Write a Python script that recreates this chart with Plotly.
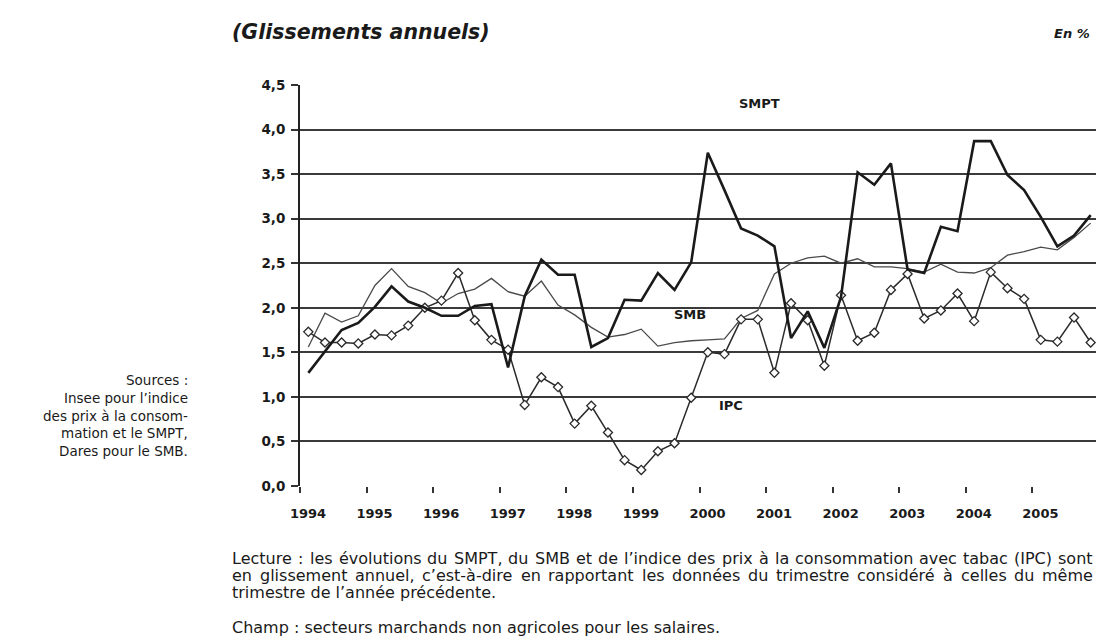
import plotly.graph_objects as go

# ---------------- data (quarterly, annual growth rates in %) ----------------
years = list(range(1994, 2006))
quarters = [1, 2, 3, 4]
smpt = [1.27, 1.51, 1.75, 1.83, 2.01, 2.24, 2.07, 2.00, 1.91, 1.91, 2.02, 2.04,
        1.33, 2.13, 2.54, 2.37, 2.37, 1.56, 1.66, 2.09, 2.08, 2.39, 2.20, 2.51,
        3.74, 3.32, 2.89, 2.81, 2.69, 1.66, 1.96, 1.55, 2.12, 3.52, 3.38, 3.62,
        2.43, 2.39, 2.91, 2.86, 3.87, 3.87, 3.49, 3.32, 3.02, 2.69, 2.81, 3.04]
smb = [1.56, 1.94, 1.84, 1.91, 2.25, 2.44, 2.24, 2.17, 2.05, 2.16, 2.21, 2.33,
       2.18, 2.13, 2.30, 2.03, 1.92, 1.78, 1.67, 1.70, 1.76, 1.57, 1.61, 1.63,
       1.64, 1.65, 1.88, 1.97, 2.38, 2.50, 2.56, 2.58, 2.50, 2.55, 2.46, 2.46,
       2.44, 2.40, 2.49, 2.40, 2.39, 2.45, 2.59, 2.63, 2.68, 2.65, 2.79, 2.95]
ipc = [1.73, 1.61, 1.61, 1.60, 1.70, 1.69, 1.80, 2.00, 2.08, 2.39, 1.86, 1.64,
       1.53, 0.91, 1.22, 1.11, 0.70, 0.90, 0.60, 0.29, 0.18, 0.39, 0.48, 0.99,
       1.50, 1.48, 1.87, 1.87, 1.27, 2.05, 1.86, 1.35, 2.14, 1.63, 1.72, 2.20,
       2.38, 1.88, 1.97, 2.16, 1.85, 2.40, 2.22, 2.10, 1.64, 1.62, 1.89, 1.61]
y_ticks = [0.0, 0.5, 1.0, 1.5, 2.0, 2.5, 3.0, 3.5, 4.0, 4.5]
year_labels = [str(y) for y in years]

title_text = "(Glissements annuels)"
unit_text = "En %"
source_lines = ["Sources :", "Insee pour l’indice", "des prix à la consom-",
                "mation et le SMPT,", "Dares pour le SMB."]
lecture_lines = [
    "Lecture : les évolutions du SMPT, du SMB et de l’indice des prix à la consommation avec tabac (IPC) sont",
    "en glissement annuel, c’est-à-dire en rapportant les données du trimestre considéré à celles du même",
    "trimestre de l’année précédente.",
]
champ_line = "Champ : secteurs marchands non agricoles pour les salaires."

# quarter positions: centre of each quarter within its year
xq = [y + (q - 0.5) / 4 for y in years for q in quarters]

# ---------------- layout geometry ----------------
# the page body adds an 8px margin, so the figure is drawn 8px smaller/offset
OFF = 8
W, H = 1104 - OFF, 641 - OFF
L, T = 300 - OFF, 85 - OFF
R = W - (1099 - OFF)
B = H - (486 - OFF)
PW, PH = W - L - R, H - T - B


def px(xpix):  # reference-picture x pixel -> paper
    return (xpix - OFF - L) / PW


def py(ypix):  # reference-picture y pixel -> paper
    return (H - B - (ypix - OFF)) / PH


FONT = "DejaVu Sans"
INK = "#1a1a1a"
BODY = 16

fig = go.Figure()
fig.add_trace(go.Scatter(x=xq, y=smb, mode="lines", name="SMB",
                         line=dict(color="#4a4a4a", width=1.3)))
fig.add_trace(go.Scatter(x=xq, y=ipc, mode="lines+markers", name="IPC",
                         line=dict(color="#2a2a2a", width=1.5),
                         marker=dict(symbol="diamond", size=7, color="white",
                                     line=dict(color="#2a2a2a", width=1.3))))
fig.add_trace(go.Scatter(x=xq, y=smpt, mode="lines", name="SMPT",
                         line=dict(color="#1a1a1a", width=2.6)))

fig.update_layout(
    width=W, height=H,
    margin=dict(l=L, r=R, t=T, b=B, pad=0),
    paper_bgcolor="white", plot_bgcolor="white",
    showlegend=False,
    separators=", ",
    font=dict(family=FONT, color=INK, size=13),
)

fig.update_xaxes(
    range=[1994, 2006], tickvals=years, ticktext=year_labels,
    ticks="outside", ticklen=6, tickwidth=2, tickcolor="#333",
    ticklabelshift=8, ticklabelstandoff=9,
    showgrid=False, zeroline=False, showline=False,
    tickfont=dict(family=FONT, size=13, color=INK, weight="bold"),
)
fig.update_yaxes(
    range=[0, 4.5], tickvals=y_ticks, tickformat=".1f",
    ticks="outside", ticklen=7, tickwidth=2, tickcolor="#333",
    ticklabelstandoff=3,
    showgrid=True, gridcolor="#3a3a3a", gridwidth=1.8,
    zeroline=False, showline=True, linecolor="#222", linewidth=2,
    tickfont=dict(family=FONT, size=13.5, color=INK, weight="bold"),
)

# light right border of the plot frame
fig.add_shape(type="line", xref="paper", yref="paper", x0=1, x1=1, y0=0, y1=1,
              line=dict(color="#c8c8c8", width=1.5))

ann = []


def text(s, xpix, ypix, xanchor="left", size=13, weight="normal", style="normal"):
    ann.append(dict(text=s, x=px(xpix), y=py(ypix), xref="paper", yref="paper",
                    xanchor=xanchor, yanchor="middle", showarrow=False, borderpad=0,
                    font=dict(family=FONT, size=size, color=INK, weight=weight, style=style)))


# series labels
for name, lx, ly in [("SMPT", 2000.9, 4.29), ("SMB", 1999.86, 1.93), ("IPC", 2000.48, 0.90)]:
    ann.append(dict(text=name, x=lx, y=ly, xref="x", yref="y", showarrow=False,
                    font=dict(family=FONT, size=13, color=INK, weight="bold")))

# title and unit
text(title_text, 231, 32, size=20.5, weight="bold", style="italic")
text(unit_text, 1091, 33, xanchor="right", size=13, weight="bold", style="italic")

# sources on the left
for i, s in enumerate(source_lines):
    text(s, 189, 380 + i * 17.8, xanchor="right", size=13.5)

# justified reading notes (word by word, DejaVu Sans advance widths)
CW = {' ': .318, '’': .318, '(': .39, ')': .39, ',': .318, '-': .361, '.': .318, ':': .337,
      'C': .698, 'I': .295, 'L': .557, 'M': .863, 'P': .603, 'S': .635, 'T': .611, 'B': .686,
      'a': .613, 'b': .635, 'c': .55, 'd': .635, 'e': .615, 'f': .352, 'g': .635, 'h': .634,
      'i': .278, 'j': .278, 'k': .579, 'l': .278, 'm': .974, 'n': .634, 'o': .612, 'p': .635,
      'q': .635, 'r': .411, 's': .521, 't': .392, 'u': .634, 'v': .592, 'w': .818, 'x': .592,
      'y': .592, 'z': .525, 'é': .615, 'è': .615, 'ê': .615, 'à': .613, 'â': .613, 'ç': .55}


def width(word, size):
    return sum(CW.get(ch, .6) for ch in word) * size


def justified(line, x0, x1, ypix, size):
    words = line.split(" ")
    total = sum(width(w, size) for w in words)
    gap = (x1 - x0 - total) / (len(words) - 1)
    x = x0
    for w in words:
        text(w, x, ypix, size=size)
        x += width(w, size) + gap


justified(lecture_lines[0], 231, 1092, 558, BODY)
justified(lecture_lines[1], 231, 1092, 575, BODY)
text(lecture_lines[2], 231, 592, size=BODY)
text(champ_line, 231, 627, size=BODY)

fig.update_layout(annotations=ann)
fig.write_html("out.html")
